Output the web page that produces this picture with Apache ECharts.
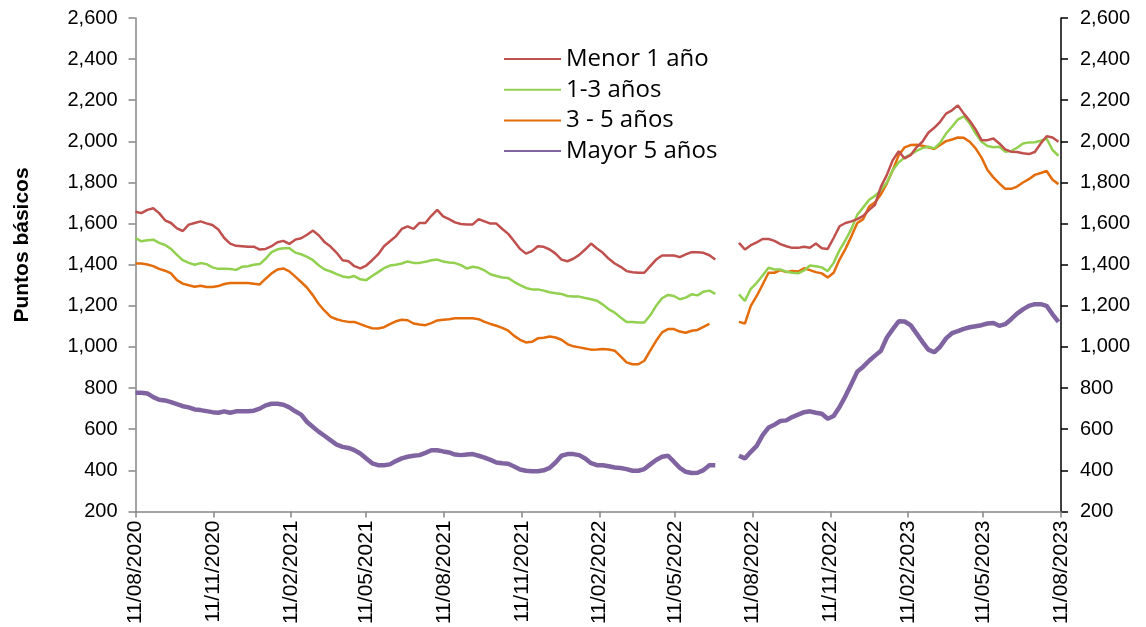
<!DOCTYPE html>
<html><head><meta charset="utf-8">
<script src="https://cdn.jsdelivr.net/npm/echarts@6/dist/echarts.min.js"></script>
<style>html,body{margin:0;padding:0;background:#fff}#c{width:1146px;height:627px}</style>
</head><body><div id="c"></div>
<script>
// Weekly observations starting on this date
const startDate = '2020-08-11';
const endDate = '2023-08-11';

const seriesNames = ['Menor 1 año', '1-3 años', '3 - 5 años', 'Mayor 5 años'];

const menor1 = [1658,1651,1667,1675,1651,1616,1603,1577,1564,1595,
1603,1611,1601,1593,1571,1530,1503,1492,1490,1487,
1488,1474,1477,1490,1509,1516,1501,1522,1529,1546,
1566,1542,1509,1487,1458,1422,1417,1393,1382,1396,
1422,1450,1490,1514,1538,1574,1587,1574,1603,1603,
1638,1667,1635,1622,1606,1598,1596,1596,1622,1611,
1600,1600,1574,1550,1514,1477,1454,1466,1490,1487,
1474,1454,1425,1417,1429,1448,1474,1503,1479,1458,
1429,1406,1390,1369,1363,1361,1361,1393,1425,1445,
1445,1445,1437,1450,1461,1461,1458,1446,1425,null,
null,null,1506,1474,1495,1509,1525,1525,1516,1500,
1490,1482,1482,1487,1483,1503,1480,1477,1530,1587,
1603,1611,1622,1638,1667,1692,1780,1837,1909,1952,
1917,1933,1971,1998,2042,2066,2095,2135,2151,2175,
2135,2100,2058,2006,2006,2014,1990,1961,1950,1948,
1942,1938,1948,1990,2025,2019,1998];

const anios1a3 = [1530,1514,1519,1522,1506,1496,1477,1448,1422,1409,
1400,1408,1403,1387,1380,1380,1379,1375,1390,1393,
1400,1403,1429,1461,1475,1480,1480,1459,1451,1438,
1422,1396,1377,1367,1354,1343,1338,1345,1329,1325,
1345,1364,1383,1396,1400,1406,1416,1409,1409,1414,
1422,1425,1416,1411,1408,1398,1382,1390,1385,1372,
1354,1345,1338,1335,1317,1301,1287,1280,1280,1274,
1266,1261,1258,1248,1246,1245,1238,1232,1225,1206,
1183,1167,1143,1122,1122,1119,1119,1154,1200,1237,
1253,1248,1232,1240,1256,1251,1269,1274,1258,null,
null,null,1256,1224,1283,1312,1348,1385,1377,1377,
1366,1361,1358,1372,1396,1393,1387,1369,1409,1471,
1519,1574,1643,1679,1716,1735,1764,1800,1861,1898,
1921,1937,1954,1967,1974,1966,1993,2038,2071,2106,
2122,2087,2038,1998,1977,1971,1974,1950,1953,1969,
1990,1995,1996,2003,2013,1958,1930];

const anios3a5 = [1406,1406,1401,1393,1380,1371,1358,1325,1308,1300,
1293,1298,1292,1292,1296,1306,1311,1311,1311,1311,
1308,1304,1332,1358,1377,1382,1368,1342,1316,1288,
1251,1208,1175,1146,1135,1127,1122,1122,1111,1100,
1091,1090,1096,1111,1125,1132,1130,1114,1109,1106,
1116,1129,1132,1135,1140,1140,1140,1140,1135,1122,
1112,1103,1093,1079,1054,1035,1022,1025,1042,1045,
1051,1046,1035,1014,1003,998,993,987,988,990,
988,982,954,925,916,916,933,982,1030,1071,
1087,1087,1075,1069,1079,1083,1098,1112,null,null,
null,null,1122,1114,1200,1248,1304,1361,1361,1374,
1364,1369,1367,1383,1374,1364,1358,1338,1361,1425,
1477,1538,1603,1622,1683,1704,1743,1796,1861,1933,
1971,1982,1983,1979,1971,1963,1982,2001,2009,2019,
2017,1998,1966,1921,1861,1825,1796,1769,1769,1780,
1800,1816,1837,1846,1856,1813,1792];

const mayor5 = [777,777,774,756,743,740,732,722,712,706,
696,693,688,683,680,687,680,687,687,687,
690,700,716,724,724,719,706,687,671,635,
611,587,567,546,525,514,509,498,482,458,
434,425,425,429,445,458,466,471,474,485,
498,498,492,487,477,474,477,479,471,462,
451,438,434,432,419,404,398,396,396,400,
412,438,471,479,479,474,458,435,425,425,
420,414,411,406,398,398,406,429,450,466,
471,442,412,393,387,388,401,425,425,null,
null,null,471,458,490,519,571,608,622,640,
643,659,671,683,687,680,675,651,664,708,
761,820,880,904,933,958,982,1046,1087,1125,
1124,1106,1066,1025,987,974,1001,1042,1067,1077,
1088,1096,1101,1106,1114,1117,1103,1111,1135,1162,
1183,1200,1208,1208,1200,1159,1122];

const tickDates = ['2020-08-11','2020-11-11','2021-02-11','2021-05-11','2021-08-11','2021-11-11',
'2022-02-11','2022-05-11','2022-08-11','2022-11-11','2023-02-11','2023-05-11','2023-08-11'];

const yMin = 200, yMax = 2600, yStep = 200;
const colors = ['#C0504D', '#92D050', '#E46C0A', '#8064A2'];

const DAY = 86400000;
function utc(s) { const p = s.split('-'); return Date.UTC(+p[0], +p[1] - 1, +p[2]); }
const t0 = utc(startDate);
function dayOf(s) { return Math.round((utc(s) - t0) / DAY); }
function pairs(arr) { return arr.map((v, k) => [k * 7, v]); }
function pad(n) { return (n < 10 ? '0' : '') + n; }
function fmtDay(v) { const d = new Date(t0 + v * DAY); return pad(d.getUTCDate()) + '/' + pad(d.getUTCMonth() + 1) + '/' + d.getUTCFullYear(); }
function fmtNum(v) { return String(v).replace(/\B(?=(\d{3})+(?!\d))/g, ','); }
const tickVals = tickDates.map(dayOf);

const chart = echarts.init(document.getElementById('c'), null, { renderer: 'canvas' });
const font = '"Liberation Sans", Arial, sans-serif';
const dataSets = [menor1, anios1a3, anios3a5, mayor5];
const widths = [2.5, 2.5, 2.5, 4.5];

chart.setOption({
  animation: false,
  backgroundColor: '#fff',
  grid: { left: 135.5, right: 85, top: 18, bottom: 114, containLabel: false },
  legend: {
    data: seriesNames.map(n => ({ name: n, itemStyle: { opacity: 0 } })),
    orient: 'vertical',
    left: 498, top: 42,
    itemWidth: 57, itemHeight: 14, itemGap: 6.7,
    textStyle: { fontFamily: '"Open Sans", sans-serif', fontSize: 24, color: '#000' }
  },
  graphic: [{
    type: 'text', x: 22, y: 245, rotation: Math.PI / 2,
    style: { text: 'Puntos básicos', fontFamily: font, fontWeight: 'bold', fontSize: 21, fill: '#000', textAlign: 'center', textVerticalAlign: 'middle' }
  }],
  xAxis: {
    type: 'value', min: 0, max: dayOf(endDate),
    axisLine: { lineStyle: { color: '#868686', width: 1.5 } },
    axisTick: { show: true, customValues: tickVals, length: 6, lineStyle: { color: '#868686', width: 1.5 } },
    axisLabel: { customValues: tickVals, formatter: v => fmtDay(v), rotate: 90, margin: 9, fontFamily: font, fontSize: 21, color: '#000' },
    splitLine: { show: false }
  },
  yAxis: [{
    type: 'value', position: 'left', min: yMin, max: yMax, interval: yStep,
    axisLine: { show: true, lineStyle: { color: '#868686', width: 1.5 } },
    axisTick: { show: true, length: 7, lineStyle: { color: '#868686', width: 1.5 } },
    axisLabel: { formatter: v => fmtNum(v), margin: 18, fontFamily: font, fontSize: 20, color: '#000' },
    splitLine: { show: false }
  }, {
    type: 'value', position: 'right', min: yMin, max: yMax, interval: yStep,
    axisLine: { show: true, lineStyle: { color: '#000', width: 1.5 } },
    axisTick: { show: true, length: 7, lineStyle: { color: '#000', width: 1.5 } },
    axisLabel: { formatter: v => fmtNum(v), margin: 19, fontFamily: font, fontSize: 20, color: '#000' },
    splitLine: { show: false }
  }],
  series: seriesNames.map((name, i) => ({
    name, type: 'line', yAxisIndex: 0,
    data: pairs(dataSets[i]),
    showSymbol: false, symbol: 'none', connectNulls: false,
    itemStyle: { color: colors[i] },
    lineStyle: { color: colors[i], width: widths[i] },
    z: 2 + (3 - i)
  }))
});
</script></body></html>
